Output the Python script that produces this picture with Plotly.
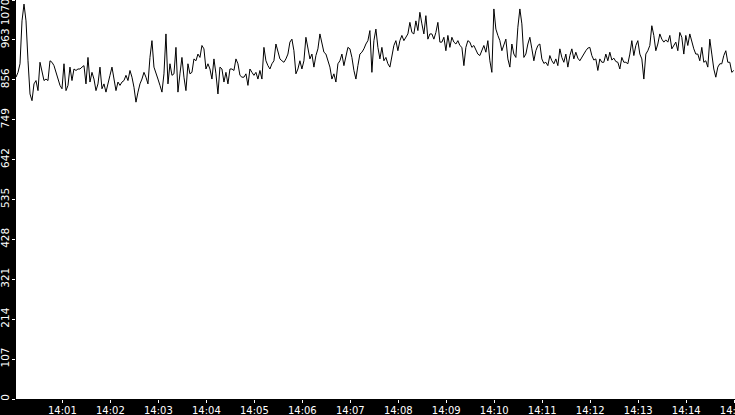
import pandas as pd
import plotly.graph_objects as go

# Sampled readings, one every 2.5 s starting 14:00:02
start_time = "2024-01-01 14:00:02"
step_seconds = 2.5

values_part1 = [
    863, 876, 899, 1014, 1059, 1014, 907, 818, 800, 845, 854, 827, 903, 881, 854, 858,
    854, 907, 903, 894, 876, 858, 841, 832, 899, 827, 841, 890, 854, 885, 881, 885,
    885, 890, 894, 845, 916, 850, 876, 858, 827, 845, 890, 832, 845, 823, 850, 868,
    890, 858, 827, 850, 841, 850, 854, 868, 854, 881, 863, 836, 796, 823, 845,
]
values_part2 = [
    858, 876, 863, 845, 916, 961, 890, 876, 858, 841, 823, 872, 979, 845, 899, 868,
    872, 943, 823, 872, 916, 863, 827, 899, 872, 876, 912, 907, 925, 916, 948, 939,
    885, 899, 885, 858, 912, 872, 818, 890, 885, 850, 876, 845, 885, 885, 881, 912,
    899, 868, 863, 863, 872, 841, 885, 876, 868, 876, 858, 881,
]
values_part3 = [
    858, 943, 907, 894, 885, 899, 907, 952, 930, 912, 907, 903, 912, 925, 957, 965,
    934, 872, 885, 907, 885, 907, 970, 939, 912, 925, 890, 921, 939, 979, 957, 930,
    925, 907, 890, 858, 872, 850, 899, 907, 925, 894, 916, 943, 939, 916, 881, 858,
    894, 925, 930, 939, 952, 961, 988, 876, 961, 992, 943, 912,
]
values_part4 = [
    943, 907, 916, 899, 890, 925, 948, 961, 934, 961, 975, 961, 970, 979, 1010, 983,
    979, 1014, 988, 1037, 1006, 979, 1028, 965, 979, 979, 965, 983, 1010, 957, 957, 970,
    934, 975, 943, 970, 957, 952, 961, 948, 943, 894, 943, 961, 957, 943, 948, 934,
    925, 921, 934, 948, 930, 961, 907, 876, 1046, 992, 975, 961,
]
values_part5 = [
    934, 948, 965, 912, 890, 952, 925, 916, 997, 1046, 1006, 916, 925, 952, 970, 939,
    907, 934, 948, 952, 912, 900, 903, 894, 921, 907, 899, 912, 894, 939, 916, 903,
    925, 890, 921, 939, 912, 930, 914, 907, 916, 927, 934, 941, 943, 921, 909, 912,
    881, 912, 903, 903, 925, 907, 930, 909, 914, 905, 903, 885,
]
values_part6 = [
    916, 903, 903, 899, 925, 961, 921, 948, 961, 925, 912, 858, 925, 934, 948, 1001,
    975, 934, 952, 979, 965, 957, 963, 957, 975, 939, 948, 957, 934, 983, 970, 925,
    975, 948, 979, 957, 939, 925, 925, 907, 943, 903, 907, 890, 965, 925, 885, 863,
    890, 899, 899, 921, 934, 903, 903, 876, 881,
]
values = values_part1 + values_part2 + values_part3 + values_part4 + values_part5 + values_part6

y_ticks = [0, 107, 214, 321, 428, 535, 642, 749, 856, 963, 1070]
y_labels = [str(v) for v in y_ticks]

times = pd.date_range(start=start_time, periods=len(values), freq=pd.Timedelta(seconds=step_seconds))

fig = go.Figure()
fig.add_trace(go.Scatter(
    x=times,
    y=values,
    mode='lines',
    line=dict(color='black', width=1),
    showlegend=False,
))
# invisible anchor so the overlay axis carrying the top label gets drawn
fig.add_trace(go.Scatter(
    x=times[:1],
    y=y_ticks[-1:],
    yaxis='y2',
    mode='markers',
    marker=dict(opacity=0),
    hoverinfo='skip',
    showlegend=False,
))

fig.update_layout(
    template='none',
    width=735,
    height=415,
    paper_bgcolor='black',
    plot_bgcolor='white',
    margin=dict(l=16, r=0, t=0, b=16, autoexpand=False),
    font=dict(family='DejaVu Sans', color='white', size=10),
)

fig.update_xaxes(
    range=['2024-01-01 14:00:02', '2024-01-01 14:15:01'],
    tickformat='%H:%M',
    dtick=60000,
    tick0='2024-01-01 14:00:00',
    ticks='outside',
    ticklen=3,
    tickcolor='white',
    tickfont=dict(size=10, color='white'),
    ticklabeloverflow='allow',
    ticklabelstandoff=-1,
    showgrid=False,
    zeroline=False,
    showline=False,
    automargin=False,
)

y_axis_style = dict(
    tickangle=-90,
    tickfont=dict(size=10.5, color='white'),
    ticklabeloverflow='allow',
    ticklabelstandoff=-1,
    showgrid=False,
    zeroline=False,
    showline=False,
    automargin=False,
    ticks='outside',
    ticklen=3,
)
fig.update_layout(
    yaxis=dict(range=[0, 1070], tickvals=y_ticks, ticktext=y_labels[:-1] + [''],
               tickcolor='white', **y_axis_style),
    # top label is pushed ~13px below its tick so it stays on the page
    yaxis2=dict(range=[36, 1106], tickvals=y_ticks[-1:], ticktext=y_labels[-1:],
                overlaying='y', anchor='x', side='left', tickcolor='black',
                **y_axis_style),
)

fig.write_html("out.html", config={'displayModeBar': False},
               post_script="document.body.style.margin='0';")
